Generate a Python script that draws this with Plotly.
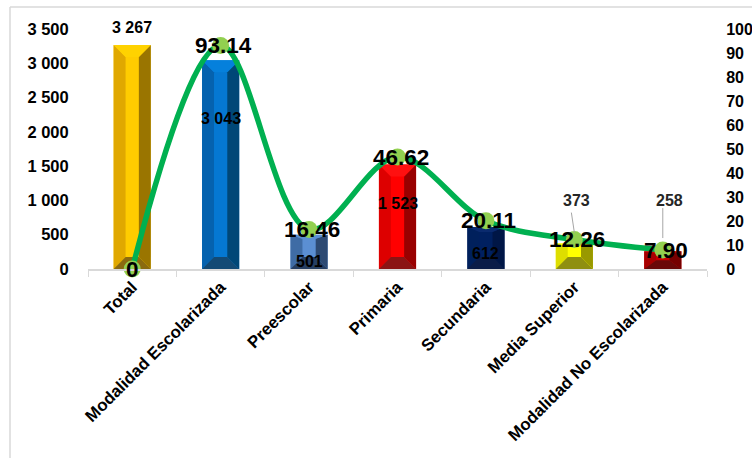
import plotly.graph_objects as go

categories = ["Total", "Modalidad Escolarizada", "Preescolar", "Primaria", "Secundaria", "Media Superior", "Modalidad No Escolarizada"]
bar_values = [3267, 3043, 501, 1523, 612, 373, 258]
bar_labels = ["3 267", "3 043", "501", "1 523", "612", "373", "258"]
pct_values = [0, 93.14, 16.46, 46.62, 20.11, 12.26, 7.90]
pct_labels = ["0", "93.14", "16.46", "46.62", "20.11", "12.26", "7.90"]
left_ticks = [0, 500, 1000, 1500, 2000, 2500, 3000, 3500]
left_ticktext = ["0", "500", "1 000", "1 500", "2 000", "2 500", "3 000", "3 500"]
right_ticks = [0, 10, 20, 30, 40, 50, 60, 70, 80, 90, 100]

face = ["#FFCC00", "#0578D2", "#5B8FD3", "#FF0000", "#002060", "#FFFF00", "#C80000"]
left_c = ["#E0A800", "#0562AE", "#3F6CA5", "#DD0000", "#00205C", "#DEDE00", "#A80000"]
right_c = ["#9A7500", "#004777", "#2D4A73", "#990000", "#001646", "#999900", "#750000"]
bottom_c = ["#8A6A10", "#134A75", "#263F63", "#8B1414", "#0A1C48", "#8F8F10", "#6A0808"]
top_c = ["#FFD200", "#0580DC", "#5B8FD3", "#FF1010", "#0A2A6E", "#FFFF00", "#D80000"]

BAR_W = 0.42
BEV_X = 0.135
BEV_Y = 175.0

fig = go.Figure()
xs = list(range(len(categories)))
fig.add_trace(go.Bar(x=xs, y=bar_values, width=BAR_W, marker=dict(color=face, line=dict(width=0)),
                     showlegend=False, hoverinfo="skip"))

for i, v in zip(xs, bar_values):
    x0, x1 = i - BAR_W / 2, i + BAR_W / 2
    bx = min(BEV_X, BAR_W / 2 * 0.7)
    by = min(BEV_Y, v * 0.5)
    ty = BEV_Y if v > 1000 else v * 0.12
    polys = [
        ([x0, x0 + bx, x0 + bx, x0], [0, by, v - ty, v], left_c[i]),
        ([x1, x1 - bx, x1 - bx, x1], [0, by, v - ty, v], right_c[i]),
        ([x0, x0 + bx, x1 - bx, x1], [0, by, by, 0], bottom_c[i]),
        ([x0, x0 + bx, x1 - bx, x1], [v, v - ty, v - ty, v], top_c[i]),
    ]
    for px, py, c in polys:
        fig.add_trace(go.Scatter(x=px + [px[0]], y=py + [py[0]], mode="lines", fill="toself", fillcolor=c,
                                 line=dict(width=0, color=c), showlegend=False, hoverinfo="skip"))

fig.add_trace(go.Scatter(x=xs, y=pct_values, yaxis="y2", mode="lines+markers",
                         line=dict(color="#00B050", width=5.5, shape="spline", smoothing=1.0),
                         marker=dict(color="#92D050", size=17), cliponaxis=False,
                         showlegend=False, hoverinfo="skip"))

# Value labels of the percentage line
for i, (p, t) in enumerate(zip(pct_values, pct_labels)):
    fig.add_annotation(x=i, y=p, yref="y2", text=f"<b>{t}</b>", showarrow=False, xshift=3 if i else 0,
                       font=dict(size=22.5, color="#000000"))

# Value labels of the bars: vertical pixel offset from each bar top
bar_label_shift = [17, -58, -27, -39, -26, None, None]
for i, (v, t, s) in enumerate(zip(bar_values, bar_labels, bar_label_shift)):
    if s is not None:
        fig.add_annotation(x=i, y=v, text=f"<b>{t}</b>", showarrow=False, yshift=s,
                           font=dict(size=16, color="#000000"))
for i, dy, dx in [(5, 39, 2), (6, 50, 7)]:
    fig.add_annotation(x=i, y=pct_values[i], yref="y2", text=f"<b>{bar_labels[i]}</b>", showarrow=False,
                       yshift=dy, xshift=dx, font=dict(size=16, color="#262626"))

# Leader lines
for i, x_top, y_bot, y_top in [(5, -3, 7, 27), (6, 0, 12, 42)]:
    fig.add_shape(type="line", xref="x", yref="y2", xsizemode="pixel", ysizemode="pixel",
                  xanchor=i, yanchor=pct_values[i], x0=0, x1=x_top, y0=y_bot, y1=y_top,
                  line=dict(color="#A6A6A6", width=1))

# Outer chart frame
fig.add_shape(type="line", xref="paper", yref="paper", x0=-78 / 619, x1=-78 / 619, y0=-189 / 240, y1=1 + 22 / 240,
              line=dict(color="#D9D9D9", width=1.5))
fig.add_shape(type="line", xref="paper", yref="paper", x0=-78 / 619, x1=664 / 619, y0=1 + 22 / 240, y1=1 + 22 / 240,
              line=dict(color="#D9D9D9", width=1.5))

fig.update_layout(
    width=752, height=458, margin=dict(l=88, r=45, t=29, b=189, pad=0, autoexpand=False),
    paper_bgcolor="#FFFFFF", plot_bgcolor="#FFFFFF", showlegend=False,
    font=dict(family="Liberation Sans", size=16, color="#000000"),
    barmode="overlay",
    xaxis=dict(range=[-0.5, 6.5], tickmode="array", tickvals=xs, automargin=False,
               ticktext=[f"<b>{c}</b>" for c in categories], tickangle=-45, ticks="", showgrid=False,
               zeroline=False, showline=True, linecolor="#D9D9D9", linewidth=1.5,
               tickfont=dict(size=16.8, color="#000000"),
               minor=dict(tickvals=[k - 0.5 for k in range(8)], ticks="outside", ticklen=6,
                          tickcolor="#D9D9D9", tickwidth=1, showgrid=False)),
    yaxis=dict(range=[0, 3500], tickmode="array", tickvals=left_ticks, automargin=False,
               ticktext=[f"<b>{t}</b>" for t in left_ticktext], showgrid=False, zeroline=False, showline=False,
               ticks="outside", ticklen=15, tickcolor="rgba(0,0,0,0)", tickfont=dict(size=16.5, color="#000000")),
    yaxis2=dict(range=[0, 100], overlaying="y", side="right", tickmode="array", tickvals=right_ticks, automargin=False,
                ticktext=[f"<b>{t}</b>" for t in right_ticks], showgrid=False, zeroline=False, showline=False,
                ticks="outside", ticklen=15, tickcolor="rgba(0,0,0,0)", tickfont=dict(size=16, color="#000000")),
)

fig.write_html("out.html", config={"displayModeBar": False},
               post_script="document.body.style.margin='0';document.documentElement.style.overflow='hidden';")
